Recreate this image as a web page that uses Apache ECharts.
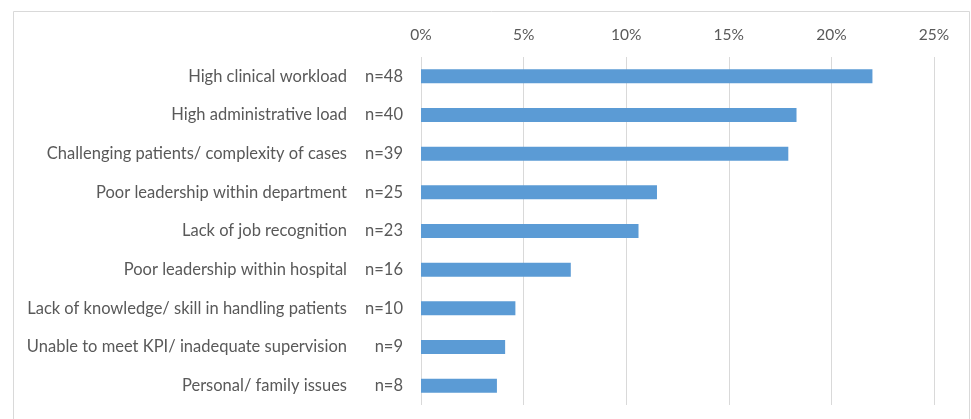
<!DOCTYPE html>
<html><head><meta charset="utf-8">
<script src="https://cdn.jsdelivr.net/npm/echarts@6/dist/echarts.min.js"></script>
<style>html,body{margin:0;padding:0;background:#fff}#c{width:971px;height:419px}</style>
</head><body><div id="c"></div>
<script>
const categories = ["High clinical workload","High administrative load","Challenging patients/ complexity of cases","Poor leadership within department","Lack of job recognition","Poor leadership within hospital","Lack of knowledge/ skill in handling patients","Unable to meet KPI/ inadequate supervision","Personal/ family issues"];
const counts = ["n=48","n=40","n=39","n=25","n=23","n=16","n=10","n=9","n=8"];
const percents = [22.0, 18.3, 17.9, 11.5, 10.6, 7.3, 4.6, 4.1, 3.7];
const xTicks = {min: 0, max: 25, interval: 5};

const font = 'Lato, "Open Sans", sans-serif';
const chart = echarts.init(document.getElementById('c'));
chart.setOption({
  animation: false,
  backgroundColor: '#fff',
  graphic: [{type:'rect', shape:{x:13.5,y:11.5,width:956,height:420}, style:{fill:'none',stroke:'#D9D9D9',lineWidth:1}, silent:true}],
  grid: {left: 421, right: 37, top: 57, bottom: 14},
  xAxis: {type:'value', position:'top', min: xTicks.min, max: xTicks.max, interval: xTicks.interval,
    axisLine:{show:false}, axisTick:{show:false},
    axisLabel:{formatter:'{value}%', color:'#595959', fontSize:15.5, fontFamily:font, margin:14},
    splitLine:{show:true, lineStyle:{color:'#D9D9D9', width:1}}},
  yAxis: [
    {type:'category', data: counts, inverse:true, position:'left',
     axisLine:{show:false}, axisTick:{show:false},
     axisLabel:{color:'#595959', fontSize:16.5, fontFamily:font, margin:18}},
    {type:'category', data: categories, inverse:true, position:'left', offset:56,
     axisLine:{show:false}, axisTick:{show:false},
     axisLabel:{color:'#595959', fontSize:16.5, fontFamily:font, margin:18}}
  ],
  series: [{type:'bar', data: percents, yAxisIndex:0, barWidth:14,
    itemStyle:{color:'#5B9BD5'}}]
});
</script></body></html>
